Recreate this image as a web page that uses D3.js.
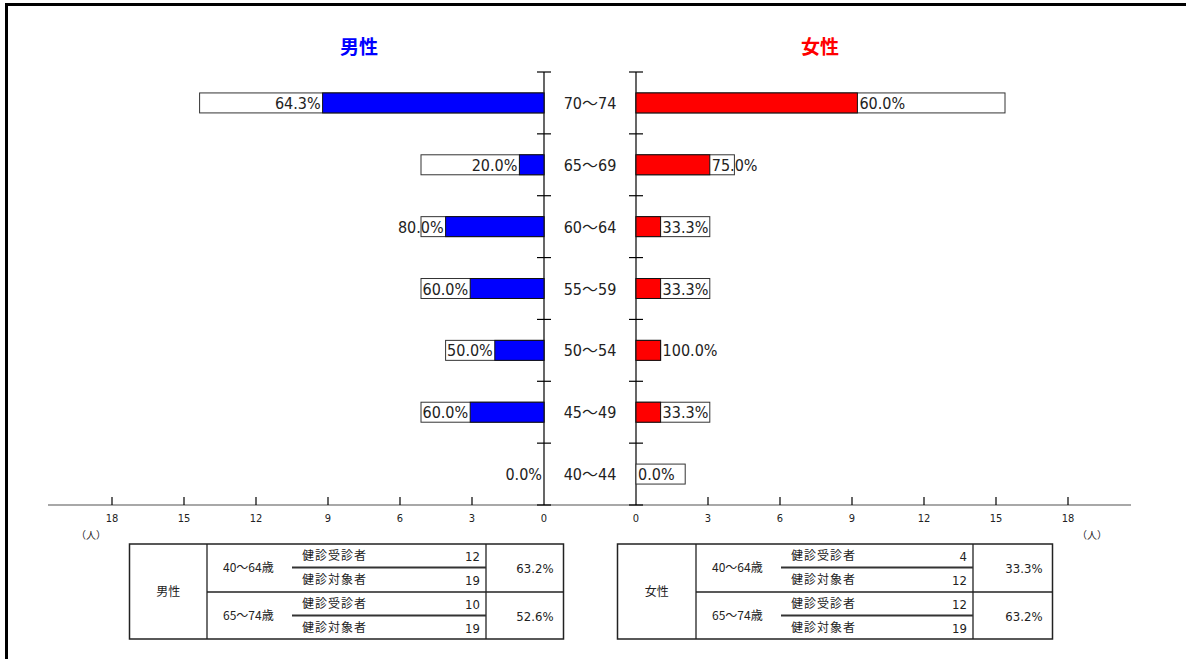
<!DOCTYPE html>
<html><head><meta charset="utf-8">
<script src="https://cdn.jsdelivr.net/npm/d3@7/dist/d3.min.js"></script>
<style>
html,body{margin:0;padding:0;background:#fff;}
svg{display:block;}
.nar{font-family:"Liberation Sans Narrow","DejaVu Sans Condensed","Noto Sans CJK JP",sans-serif;}
.cjk{font-family:"Noto Sans CJK JP",sans-serif;}
</style></head>
<body><svg id="c" width="1186" height="659"></svg>
<script>
// ---- data ----
const ageGroups = ["70～74","65～69","60～64","55～59","50～54","45～49","40～44"];
const maleExamined   = [9, 1, 4, 3, 2, 3, 0];
const maleTarget     = [14, 5, 5, 5, 4, 5, 0];
const femaleExamined = [9, 3, 1, 1, 1, 1, 0];
const femaleTarget   = [15, 4, 3, 3, 1, 3, 2];
const axisTicks = [0, 3, 6, 9, 12, 15, 18];
const unitLabel = "（人）";
const titles = ["男性", "女性"];

const tableAgeBands = ["40～64歳", "65～74歳"];
const tableRowLabels = ["健診受診者", "健診対象者"];
const maleTableExamined = [12, 10];
const maleTableTarget = [19, 19];
const maleTableRate = ["63.2%", "52.6%"];
const femaleTableExamined = [4, 12];
const femaleTableTarget = [12, 19];
const femaleTableRate = ["33.3%", "63.2%"];

// ---- drawing ----
const svg = d3.select("#c");
const rate = (e, t) => (t === 0 ? 0 : e / t * 100).toFixed(1) + "%";

// frame
svg.append("line").attr("x1",5).attr("x2",1186).attr("y1",4.5).attr("y2",4.5).attr("stroke","#000").attr("stroke-width",3);
svg.append("line").attr("x1",6.5).attr("x2",6.5).attr("y1",3).attr("y2",659).attr("stroke","#000").attr("stroke-width",3);

const mx0 = 544, fx0 = 636, yTop = 72, yBot = 505;
const y = d3.scaleBand().domain(ageGroups).range([yTop, yBot]).paddingInner(0.677).paddingOuter(0.3385);
const xmBar = d3.scaleLinear().domain([0, 18]).range([mx0, mx0 - 18 * 24.6]);
const xfBar = d3.scaleLinear().domain([0, 18]).range([fx0, fx0 + 18 * 24.6]);
const xmAx = d3.scaleLinear().domain([0, 18]).range([mx0, mx0 - 432]);
const xfAx = d3.scaleLinear().domain([0, 18]).range([fx0, fx0 + 432]);

// titles
svg.append("text").attr("class","cjk").attr("x",359).attr("y",54).attr("text-anchor","middle")
  .attr("font-size",19).attr("font-weight","bold").attr("fill","#0000ff").text(titles[0]);
svg.append("text").attr("class","cjk").attr("x",820).attr("y",54).attr("text-anchor","middle")
  .attr("font-size",19).attr("font-weight","bold").attr("fill","#ff0000").text(titles[1]);

// horizontal axis
svg.append("line").attr("x1",48).attr("x2",1131).attr("y1",505).attr("y2",505).attr("stroke","#a8a8a8").attr("stroke-width",2);
[xmAx, xfAx].forEach(sc => {
  const g = svg.append("g");
  g.selectAll("line.t").data(axisTicks.filter(d => d > 0)).join("line")
    .attr("x1", d => sc(d)).attr("x2", d => sc(d)).attr("y1", 497).attr("y2", 505)
    .attr("stroke","#000").attr("stroke-width",1.2);
  g.selectAll("text").data(axisTicks).join("text").attr("class","nar")
    .attr("x", d => sc(d)).attr("y", 522).attr("text-anchor","middle")
    .attr("font-size",11).attr("fill","#222").text(d => d);
});
svg.append("text").attr("class","cjk").attr("x",91).attr("y",539).attr("text-anchor","middle").attr("font-size",10).attr("fill","#222").text(unitLabel);
svg.append("text").attr("class","cjk").attr("x",1092).attr("y",539).attr("text-anchor","middle").attr("font-size",10).attr("fill","#222").text(unitLabel);

// vertical axes with cross ticks
const bounds = ageGroups.map(a => y(a) - y.step() * y.paddingInner() / 2).concat([yBot]);
[mx0, fx0].forEach(x0 => {
  svg.append("line").attr("x1",x0).attr("x2",x0).attr("y1",yTop).attr("y2",yBot).attr("stroke","#000").attr("stroke-width",1.2);
  svg.selectAll(null).data(bounds).join("line")
    .attr("x1", x0 - 7).attr("x2", x0 + 7).attr("y1", d => d).attr("y2", d => d)
    .attr("stroke","#000").attr("stroke-width",1.2);
});

// category labels
svg.selectAll("text.cat").data(ageGroups).join("text").attr("class","nar cat")
  .attr("x", 590).attr("y", d => y(d) + y.bandwidth() / 2 + 6).attr("text-anchor","middle")
  .attr("font-size",16).attr("fill","#222").text(d => d);

// male bars
const bh = y.bandwidth();
ageGroups.forEach((a, i) => {
  const t = maleTarget[i], e = maleExamined[i];
  if (t > 0) {
    svg.append("rect").attr("x", xmBar(t)).attr("y", y(a)).attr("width", xmBar(0) - xmBar(t)).attr("height", bh)
      .attr("fill","#fff").attr("stroke","#333").attr("stroke-width",1);
  }
  if (e > 0) {
    svg.append("rect").attr("x", xmBar(e)).attr("y", y(a)).attr("width", xmBar(0) - xmBar(e)).attr("height", bh)
      .attr("fill","#0000ff").attr("stroke","#111").attr("stroke-width",1);
  }
  svg.append("text").attr("class","nar").attr("x", xmBar(e) - 2).attr("y", y(a) + bh / 2 + 6)
    .attr("text-anchor","end").attr("font-size",16).attr("fill","#222").text(rate(e, t));
});
// female bars
ageGroups.forEach((a, i) => {
  const t = femaleTarget[i], e = femaleExamined[i];
  if (t > 0) {
    svg.append("rect").attr("x", xfBar(0)).attr("y", y(a)).attr("width", xfBar(t) - xfBar(0)).attr("height", bh)
      .attr("fill","#fff").attr("stroke","#333").attr("stroke-width",1);
  }
  if (e > 0) {
    svg.append("rect").attr("x", xfBar(0)).attr("y", y(a)).attr("width", xfBar(e) - xfBar(0)).attr("height", bh)
      .attr("fill","#ff0000").attr("stroke","#111").attr("stroke-width",1);
  }
  svg.append("text").attr("class","nar").attr("x", xfBar(e) + 2).attr("y", y(a) + bh / 2 + 6)
    .attr("text-anchor","start").attr("font-size",16).attr("fill","#222").text(rate(e, t));
});

// tables
function drawTable(x0, x1, x2, x3, label, ex, tg, rt) {
  const y0 = 544, ym = 592, y1 = 639;
  const g = svg.append("g");
  g.append("rect").attr("x",x0).attr("y",y0).attr("width",x3-x0).attr("height",y1-y0)
    .attr("fill","none").attr("stroke","#222").attr("stroke-width",1.5);
  g.append("line").attr("x1",x1).attr("x2",x1).attr("y1",y0).attr("y2",y1).attr("stroke","#222").attr("stroke-width",1.3);
  g.append("line").attr("x1",x2).attr("x2",x2).attr("y1",y0).attr("y2",y1).attr("stroke","#222").attr("stroke-width",1.3);
  g.append("line").attr("x1",x1).attr("x2",x3).attr("y1",ym).attr("y2",ym).attr("stroke","#222").attr("stroke-width",1.3);
  g.append("text").attr("class","cjk").attr("x",(x0+x1)/2).attr("y",ym+4).attr("text-anchor","middle")
    .attr("font-size",12).attr("fill","#222").text(label);
  const lineX1 = x1 + 85;
  tableAgeBands.forEach((band, k) => {
    const top = k === 0 ? y0 : ym;
    const mid = top + 23.5;
    g.append("line").attr("x1",lineX1).attr("x2",x2).attr("y1",mid).attr("y2",mid).attr("stroke","#333").attr("stroke-width",2);
    g.append("text").attr("class","cjk").attr("x",x1+16).attr("y",mid+4).attr("font-size",12).attr("fill","#222").text(band);
    const vals = [ex[k], tg[k]];
    tableRowLabels.forEach((lab, r) => {
      const ty = top + (r === 0 ? 12 : 36) + 4;
      g.append("text").attr("class","cjk").attr("x",lineX1+10).attr("y",ty).attr("font-size",12)
        .attr("letter-spacing",1).attr("fill","#222").text(lab);
      g.append("text").attr("class","nar").attr("x",x2-6).attr("y",ty+1).attr("text-anchor","end")
        .attr("font-size",13).attr("fill","#222").text(vals[r]);
    });
    g.append("text").attr("class","nar").attr("x",x3-10).attr("y",mid+5).attr("text-anchor","end")
      .attr("font-size",13).attr("fill","#222").text(rt[k]);
  });
}
drawTable(129.5, 207, 486, 563.5, titles[0], maleTableExamined, maleTableTarget, maleTableRate);
drawTable(617.5, 696, 973, 1052.5, titles[1], femaleTableExamined, femaleTableTarget, femaleTableRate);
</script></body></html>
